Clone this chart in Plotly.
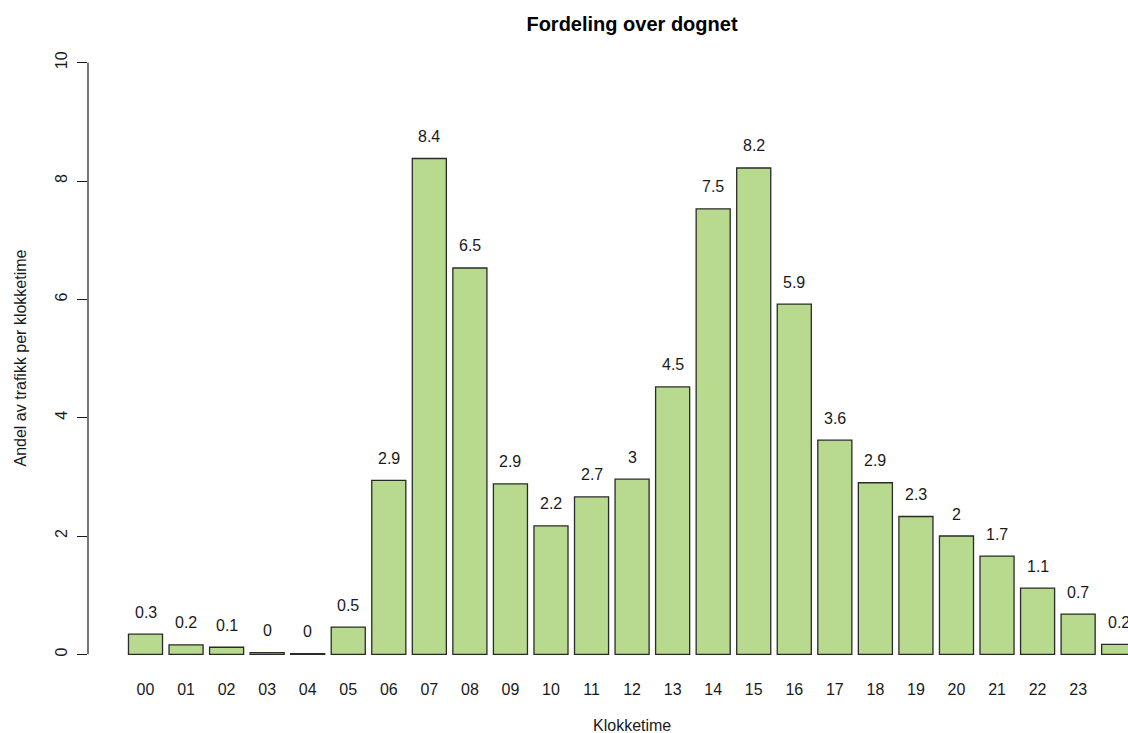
import plotly.graph_objects as go

# Share of traffic per clock hour (percent); the 25th bar is the wrap-around hour
hours = ["00", "01", "02", "03", "04", "05", "06", "07", "08", "09", "10", "11",
         "12", "13", "14", "15", "16", "17", "18", "19", "20", "21", "22", "23"]
share = [0.34, 0.16, 0.12, 0.03, 0.01, 0.46, 2.94, 8.38, 6.53, 2.88, 2.17, 2.66,
         2.96, 4.52, 7.53, 8.22, 5.92, 3.62, 2.90, 2.33, 2.00, 1.66, 1.12, 0.68, 0.17]
y_ticks = [0, 2, 4, 6, 8, 10]

title_text = "Fordeling over dognet"
x_title = "Klokketime"
y_title = "Andel av trafikk per klokketime"

FONT = "Liberation Sans, Arial, sans-serif"
TEXT = "#1a1a1a"
FILL = "#b7da8e"
EDGE = "#2a2a2a"


def r_label(v):
    """Round to one decimal and drop a trailing .0, like R's print of round()."""
    r = round(v, 1)
    return str(int(r)) if r == int(r) else f"{r:.1f}"


positions = list(range(len(share)))

fig = go.Figure()
fig.add_trace(go.Bar(
    x=positions,
    y=share,
    width=0.84,
    marker=dict(color=FILL, line=dict(color=EDGE, width=1.3)),
    hoverinfo="skip",
))

# value labels above each bar
for x, v in zip(positions, share):
    fig.add_annotation(
        x=x, y=v, xref="x", yref="y",
        text=r_label(v), showarrow=False,
        yanchor="middle", yshift=22,
        font=dict(family=FONT, size=16, color=TEXT),
    )

# y axis line spanning only the tick range
fig.add_shape(type="line", xref="paper", yref="y",
              x0=0, x1=0, y0=y_ticks[0], y1=y_ticks[-1],
              line=dict(color=TEXT, width=1.2))

W, H = 1128, 733
ML, MR, MT, MB = 88, 0, 39, 55
plot_w = W - ML - MR
center_px = 632

fig.add_annotation(
    x=(center_px - ML) / plot_w, y=0, xref="paper", yref="paper",
    text=x_title, showarrow=False, yanchor="middle", yshift=-47,
    font=dict(family=FONT, size=16, color=TEXT),
)
fig.add_annotation(
    x=0, y=0.5, xref="paper", yref="paper",
    text=y_title, showarrow=False, textangle=-90,
    xanchor="center", yanchor="middle", xshift=-68,
    font=dict(family=FONT, size=16, color=TEXT),
)

fig.update_layout(
    width=W, height=H,
    margin=dict(l=ML, r=MR, t=MT, b=MB),
    paper_bgcolor="white", plot_bgcolor="white",
    showlegend=False,
    title=dict(text=f"<b>{title_text}</b>", x=center_px / W, xanchor="center",
               y=1 - 24 / H, yanchor="middle", yref="container",
               font=dict(family=FONT, size=20, color="#000000")),
    xaxis=dict(
        range=[-1.418, 24.23],
        tickmode="array", tickvals=positions[:len(hours)], ticktext=hours,
        showline=False, showgrid=False, zeroline=False, ticks="",
        tickfont=dict(family=FONT, size=16, color=TEXT),
    ),
    yaxis=dict(
        range=[-0.4, 10.4],
        tickmode="array", tickvals=y_ticks,
        tickangle=-90,
        showline=False, showgrid=False, zeroline=False,
        ticks="outside", ticklen=10, tickwidth=1.2, tickcolor=TEXT,
        ticklabelstandoff=4,
        tickfont=dict(family=FONT, size=16, color=TEXT),
    ),
)

fig.write_html("out.html")
